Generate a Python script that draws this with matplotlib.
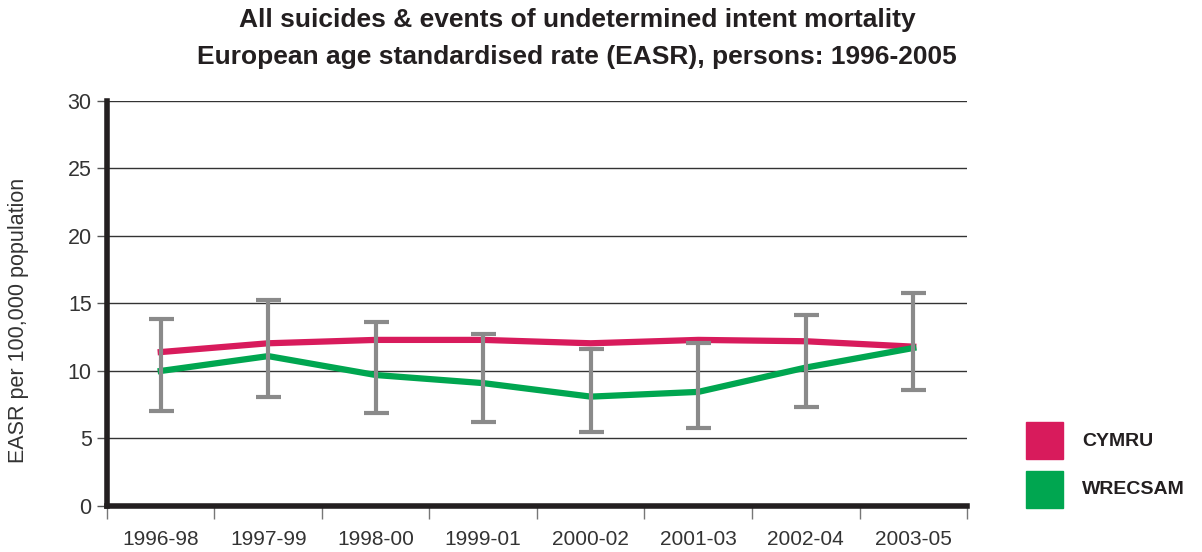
import numpy as np
import matplotlib.pyplot as plt
from matplotlib.patches import Rectangle

plt.rcParams['font.family'] = ['Liberation Sans', 'DejaVu Sans']

# -----------------------------
# Datos
# -----------------------------
periods = ["1996-98", "1997-99", "1998-00", "1999-01",
           "2000-02", "2001-03", "2002-04", "2003-05"]
cymru = [11.4, 12.05, 12.3, 12.3, 12.05, 12.3, 12.2, 11.8]
wrecsam = [10.0, 11.1, 9.7, 9.1, 8.1, 8.45, 10.25, 11.7]
wrecsam_low = [7.0, 8.05, 6.9, 6.25, 5.45, 5.75, 7.3, 8.6]
wrecsam_high = [13.85, 15.25, 13.6, 12.75, 11.65, 12.05, 14.15, 15.8]

col_cymru = "#d81b5c"
col_wrec = "#00a650"
col_err = "#8a8a8a"

# -----------------------------
# Figura
# -----------------------------
fig = plt.figure(figsize=(12.02, 5.52), dpi=100)
ax = fig.add_axes([0.089, 0.0833, 0.7155, 0.734])

x = np.arange(len(periods))
ax.set_xlim(-0.5, len(periods) - 0.5)
ax.set_ylim(0, 30)

for yv in range(5, 31, 5):
    ax.axhline(yv, color="#333333", lw=1.0, zorder=1)

ax.plot(x, cymru, color=col_cymru, lw=4.5, zorder=3, solid_joinstyle="miter")
ax.plot(x, wrecsam, color=col_wrec, lw=4.5, zorder=3, solid_joinstyle="miter")

err = [np.array(wrecsam) - np.array(wrecsam_low),
       np.array(wrecsam_high) - np.array(wrecsam)]
ax.errorbar(x, wrecsam, yerr=err, fmt="none", ecolor=col_err,
            elinewidth=3, capsize=9, capthick=3, zorder=4)

# ejes
for s in ["top", "right"]:
    ax.spines[s].set_visible(False)
ax.spines["left"].set_linewidth(4)
ax.spines["bottom"].set_linewidth(4)
ax.spines["left"].set_color("#231f20")
ax.spines["bottom"].set_color("#231f20")

ax.set_yticks(range(0, 31, 5))
ax.tick_params(axis="y", length=7, width=1, color="#555555",
               labelsize=15.5, labelcolor="#333333", pad=4)

ax.set_xticks(x)
ax.set_xticklabels(periods)
ax.set_xticks(np.arange(-0.5, len(periods)), minor=True)
ax.tick_params(axis="x", which="major", length=0, labelsize=15,
               labelcolor="#333333", pad=17)
ax.tick_params(axis="x", which="minor", length=9, width=1, color="#777777")

ax.set_ylabel("EASR per 100,000 population", fontsize=15.5, color="#333333")
ax.yaxis.set_label_coords(-0.091, 0.457)

fig.text(0.480, 0.964, "All suicides & events of undetermined intent mortality",
         ha="center", va="center", fontsize=19, fontweight="bold", color="#231f20")
fig.text(0.480, 0.897, "European age standardised rate (EASR), persons: 1996-2005",
         ha="center", va="center", fontsize=19, fontweight="bold", color="#231f20")

# leyenda
for i, (lab, c) in enumerate([("CYMRU", col_cymru), ("WRECSAM", col_wrec)]):
    y0 = 1 - (459 + i * 49) / 552
    fig.patches.append(Rectangle((1026 / 1202, y0), 37 / 1202, 37 / 552,
                                 transform=fig.transFigure, color=c))
    fig.text(1082 / 1202, y0 + 18 / 552, lab, ha="left", va="center",
             fontsize=14, fontweight="bold", color="#231f20")

fig.savefig("out.png", dpi=100)
